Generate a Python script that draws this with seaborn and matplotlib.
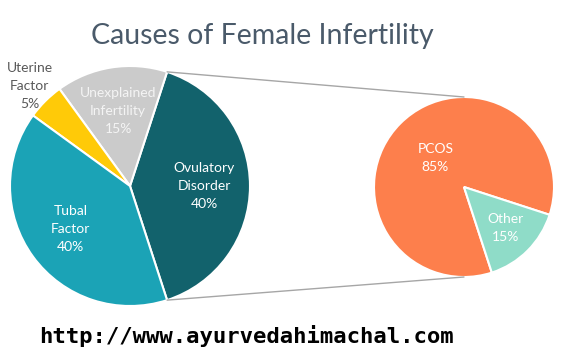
#!/usr/bin/env python3

import matplotlib.pyplot as plt
import numpy as np
import seaborn as sns
from matplotlib.patches import ConnectionPatch

OUTPUT = "out.png"

# main pie
causes = ["Ovulatory\nDisorder", "Unexplained\nInfertility", "Uterine\nFactor", "Tubal\nFactor"]
cause_pct = [40, 15, 5, 40]
cause_colors = ["#12626C", "#CBCBCB", "#FFCA08", "#1BA3B6"]
cause_text = ["white", "#F4F4F4", "#595959", "white"]
cause_label_r = [0.62, 0.63, 1.18, 0.61]

# breakdown of ovulatory disorder
ovulatory = ["PCOS", "Other"]
ovulatory_pct = [85, 15]
ovulatory_colors = ["#FD7F4C", "#8FDCC8"]
ovulatory_label_r = [0.45, 0.65]

W, H = 563, 352


def px_axes(fig, cx, cy, r):
    # axes of size 2r centred at (cx, cy) in image pixels (y down)
    return fig.add_axes([(cx - r) / W, (H - cy - r) / H, 2 * r / W, 2 * r / H])


def draw_pie(ax, values, colors, start, names, label_r, text_colors, fs):
    wedges, _ = ax.pie(
        values,
        colors=colors,
        startangle=start,
        counterclock=True,
        radius=1,
        wedgeprops=dict(edgecolor="white", linewidth=1.5),
    )
    for w, name, val, lr, tc in zip(wedges, names, values, label_r, text_colors):
        mid = np.deg2rad((w.theta1 + w.theta2) / 2)
        ax.text(lr * np.cos(mid), lr * np.sin(mid), f"{name}\n{val}%",
                ha="center", va="center", color=tc, fontsize=fs, linespacing=1.6)
    ax.set_xlim(-1, 1)
    ax.set_ylim(-1, 1)
    ax.set_aspect("equal")
    ax.axis("off")
    return wedges


def main():
    sns.set_style("white")
    plt.rcParams["font.family"] = ["Lato", "DejaVu Sans"]

    fig = plt.figure(figsize=(W / 100, H / 100), dpi=100)

    ax1 = px_axes(fig, 130, 186, 120)
    wedges = draw_pie(ax1, cause_pct, cause_colors, -72, causes,
                      cause_label_r, cause_text, 10)

    ax2 = px_axes(fig, 464, 187, 90)
    draw_pie(ax2, ovulatory_pct, ovulatory_colors, -18, ovulatory,
             ovulatory_label_r, ["white", "white"], 10)

    ov = wedges[0]
    for ang, yend in [(ov.theta2, 1), (ov.theta1, -1)]:
        a = np.deg2rad(ang)
        con = ConnectionPatch(xyA=(np.cos(a), np.sin(a)), coordsA=ax1.transData,
                              xyB=(0, yend), coordsB=ax2.transData,
                              color="#A6A6A6", linewidth=1)
        fig.add_artist(con)

    fig.text(262 / W, 1 - 36 / H, "Causes of Female Infertility",
             ha="center", va="center", fontsize=20.5, color="#4A5A6A")
    fig.text(246 / W, 1 - 336 / H, "http://www.ayurvedahimachal.com",
             ha="center", va="center", fontsize=16, fontweight="bold",
             family="DejaVu Sans Mono", color="black")

    fig.savefig(OUTPUT, dpi=100)


if __name__ == "__main__":
    main()
